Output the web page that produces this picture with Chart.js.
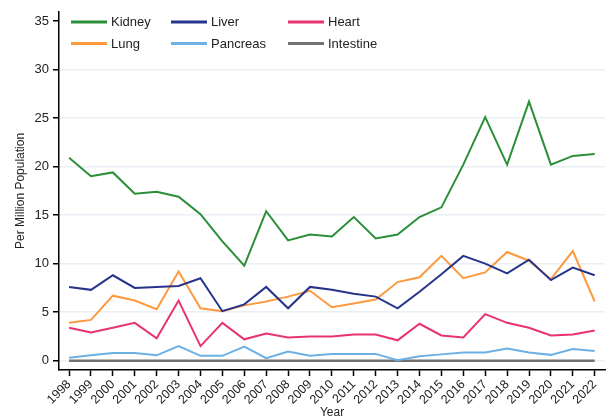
<!DOCTYPE html>
<html>
<head>
<meta charset="utf-8">
<script src="https://cdn.jsdelivr.net/npm/chart.js@4"></script>
<style>
html,body{margin:0;padding:0;background:#fff;}
#wrap{width:608px;height:419px;position:relative;}
</style>
</head>
<body>
<div id="wrap"><canvas id="c" width="608" height="419"></canvas></div>
<script>
const years = [1998,1999,2000,2001,2002,2003,2004,2005,2006,2007,2008,2009,2010,2011,2012,2013,2014,2015,2016,2017,2018,2019,2020,2021,2022];
const kidney   = [20.9,19.0,19.4,17.2,17.4,16.9,15.1,12.3,9.8,15.4,12.4,13.0,12.8,14.8,12.6,13.0,14.8,15.8,20.2,25.1,20.2,26.7,20.2,21.1,21.3];
const liver    = [7.6,7.3,8.8,7.5,7.6,7.7,8.5,5.1,5.8,7.6,5.4,7.6,7.3,6.9,6.6,5.4,7.1,8.9,10.8,10.0,9.0,10.4,8.3,9.6,8.8];
const heart    = [3.4,2.9,3.4,3.9,2.3,6.2,1.5,3.9,2.2,2.8,2.4,2.5,2.5,2.7,2.7,2.1,3.8,2.6,2.4,4.8,3.9,3.4,2.6,2.7,3.1];
const lung     = [3.9,4.2,6.7,6.2,5.3,9.2,5.4,5.1,5.7,6.1,6.6,7.2,5.5,5.9,6.3,8.1,8.6,10.8,8.5,9.1,11.2,10.3,8.4,11.3,6.1];
const pancreas = [0.3,0.55,0.8,0.8,0.55,1.5,0.5,0.5,1.45,0.25,0.95,0.5,0.7,0.7,0.7,0.05,0.45,0.65,0.85,0.85,1.25,0.85,0.6,1.2,1.0];
const intestine= [0,0,0,0,0,0,0,0,0,0,0,0,0,0,0,0,0,0,0,0,0,0,0,0,0];
const yTicks = [0,5,10,15,20,25,30,35];
const seriesNames = ['Kidney','Liver','Heart','Lung','Pancreas','Intestine'];
const seriesColors = ['#2b8f3a','#27348b','#e8336d','#fd9a3e','#6cb0e4','#727272'];
const seriesData = [kidney,liver,heart,lung,pancreas,intestine];

const FONT = "'Liberation Sans', Arial, sans-serif";

const datasets = seriesNames.map((n,i)=>({
  label:n,
  data: years.map((y,j)=>({x:y,y:seriesData[i][j]})),
  borderColor: seriesColors[i],
  backgroundColor: seriesColors[i],
  borderWidth: i===5 ? 2.5 : 2,
  pointRadius:0,
  tension:0,
  fill:false
}));

const legendPlugin = {
  id:'gridLegend',
  afterDatasetsDraw(chart){
    const ctx = chart.ctx;
    const cols = [71,171,288];
    const rows = [22,43.5];
    ctx.save();
    ctx.font = "13px " + FONT;
    ctx.textBaseline = 'middle';
    ctx.textAlign = 'left';
    chart.data.datasets.forEach((ds,i)=>{
      const x = cols[i%3], y = rows[Math.floor(i/3)];
      ctx.strokeStyle = ds.borderColor;
      ctx.lineWidth = 3;
      ctx.beginPath();
      ctx.moveTo(x,y); ctx.lineTo(x+36,y); ctx.stroke();
      ctx.fillStyle = '#222';
      ctx.fillText(ds.label, x+40, y+0.5);
    });
    ctx.restore();
  }
};

new Chart(document.getElementById('c'), {
  type:'line',
  data:{datasets},
  options:{
    responsive:false,
    animation:false,
    layout:{padding:{top:3,right:3,left:0,bottom:0}},
    plugins:{legend:{display:false},tooltip:{enabled:false}},
    scales:{
      x:{
        type:'linear',
        min:1997.54, max:2022.47,
        afterBuildTicks(s){ s.ticks = years.map(v=>({value:v})); },
        afterFit(s){ s.height = 49; },
        ticks:{
          callback:v=>String(v),
          maxRotation:45, minRotation:45,
          autoSkip:false,
          font:{family:FONT,size:12.5},
          color:'#222',
          padding:1
        },
        grid:{drawOnChartArea:false, drawTicks:true, tickLength:6, tickColor:'#000', tickWidth:1.5},
        border:{color:'#000', width:1.5},
        title:{display:true,text:'Year',font:{family:FONT,size:12},color:'#222',padding:{top:0,bottom:-1}}
      },
      y:{
        min:-0.96, max:35.95,
        afterBuildTicks(s){ s.ticks = yTicks.map(v=>({value:v})); },
        afterFit(s){ s.width = 59; },
        ticks:{
          font:{family:FONT,size:13},
          color:'#222',
          padding:4
        },
        grid:{
          color:ctx=> (ctx.tick && ctx.tick.value===35) ? 'rgba(0,0,0,0)' : '#e9eff5',
          lineWidth:1.5,
          drawTicks:true, tickLength:6, tickColor:'#000', tickWidth:1.5
        },
        border:{color:'#000', width:1.5},
        title:{display:true,text:'Per Million Population',font:{family:FONT,size:12},color:'#222',padding:{top:13,bottom:0}}
      }
    }
  },
  plugins:[legendPlugin]
});
</script>
</body>
</html>
